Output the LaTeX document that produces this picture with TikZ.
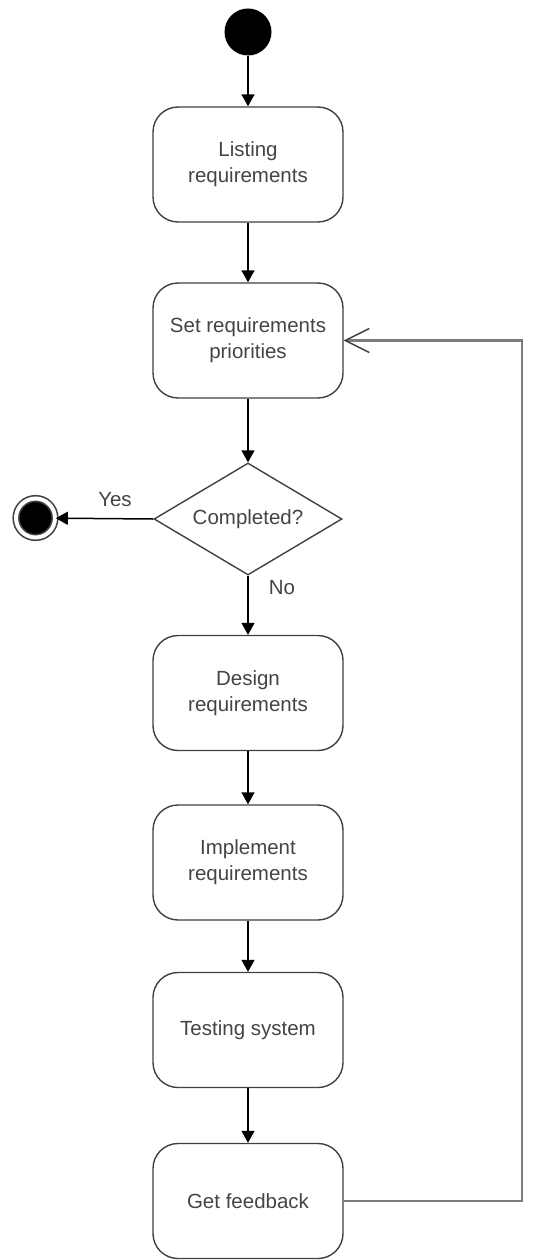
\documentclass[tikz,border=0pt]{standalone}
\usepackage{fontspec}
\setmainfont{Liberation Sans}
\usetikzlibrary{shapes.geometric,arrows.meta}
\definecolor{edgegray}{HTML}{404040}
\definecolor{txtgray}{HTML}{444444}
\definecolor{loopgray}{HTML}{7C7C7C}
\begin{document}
\begin{tikzpicture}[x=1pt,y=-1pt,
  activity/.style={draw=edgegray, line width=1.4pt, rounded corners=25pt,
    minimum width=190pt, minimum height=115pt, inner sep=0pt, align=center,
    text=txtgray, font=\fontsize{20.5}{26}\selectfont},
  decision/.style={diamond, draw=edgegray, line width=1.4pt, aspect=1.68,
    minimum width=188pt, minimum height=112pt, inner sep=0pt,
    text=txtgray, font=\fontsize{20.5}{26}\selectfont},
  initial/.style={circle, fill=black, minimum size=47pt, inner sep=0pt},
  final/.style={circle, fill=black, draw=edgegray, line width=1.6pt,
    double=white, double distance=4pt, minimum size=39pt, inner sep=0pt},
  flow/.style={draw=black, line width=1.5pt, -{Triangle[length=12pt,width=13pt]}},
  loopback/.style={draw=loopgray, line width=2.6pt,
    -{Straight Barb[length=24pt,width=24pt,line width=1.4pt,color=edgegray]}},
  guard/.style={text=txtgray, font=\fontsize{20.5}{26}\selectfont}
]
\useasboundingbox (0,0) rectangle (556,1260);

\node[initial] (start) at (248,32) {};
\node[activity] (list) at (248,164.5) {Listing\\requirements};
\node[activity] (prio) at (248,340.5) {Set requirements\\priorities};
\node[decision] (done) at (248,519) {Completed?};
\node[final] (stop) at (35.5,518) {};
\node[activity] (design) at (248,693) {Design\\requirements};
\node[activity] (impl) at (248,862.5) {Implement\\requirements};
\node[activity] (test) at (248,1030) {Testing system};
\node[activity] (fb) at (248,1201) {Get feedback};
\coordinate (loopx) at (522,0);

\draw[flow] (start) -- (list);
\draw[flow] (list) -- (prio);
\draw[flow] (prio) -- (done);
\draw[flow] (done.west) -- (stop);
\draw[flow] (done.south) -- (design);
\draw[flow] (design) -- (impl);
\draw[flow] (impl) -- (test);
\draw[flow] (test) -- (fb);
\draw[loopback] (fb.east) -| (loopx |- prio.east) -- (prio.east);

\node[guard] (yes) at (115,500) {Yes};
\node[guard] (no) at (282,588) {No};
\end{tikzpicture}
\end{document}
